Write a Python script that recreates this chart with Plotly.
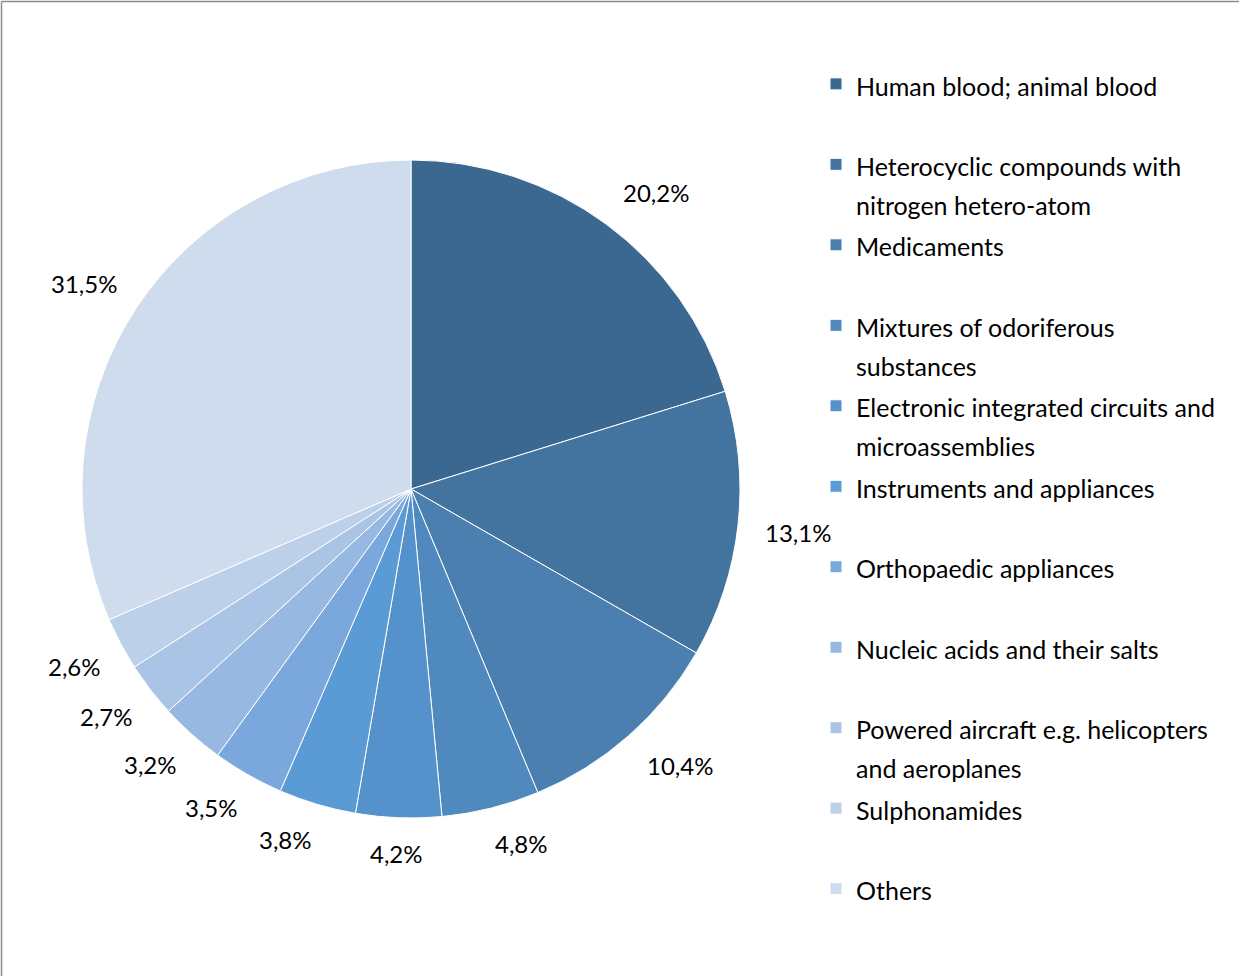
import math
import plotly.graph_objects as go

# ---------------- data ----------------
categories = [
    "Human blood; animal blood",
    "Heterocyclic compounds with<br>nitrogen hetero-atom",
    "Medicaments",
    "Mixtures of odoriferous<br>substances",
    "Electronic integrated circuits and<br>microassemblies",
    "Instruments and appliances",
    "Orthopaedic appliances",
    "Nucleic acids and their salts",
    "Powered aircraft e.g. helicopters<br>and aeroplanes",
    "Sulphonamides",
    "Others",
]
shares = [20.2, 13.1, 10.4, 4.8, 4.2, 3.8, 3.5, 3.2, 2.7, 2.6, 31.5]
colors = [
    "#3B6891", "#4374A0", "#4A7FB0", "#4F89BE", "#5591CA", "#5B9BD5",
    "#7AA7DC", "#96B8E1", "#AAC4E6", "#BCD0EA", "#CFDCEE",
]

# ---------------- layout constants ----------------
W_FIG, H_FIG = 1239, 976
CX, CY, R = 411, 489, 329          # pie centre / radius in pixels
FONT = "Lato"
TXT_FS = 24                         # data-label text size
LEG_FS = 25                         # visible legend text size
LEG_BASE_FS = 29.8                  # legend base size (sets entry spacing)
LABEL_GAP = 25

def fmt(v):
    return f"{v:.1f}".replace(".", ",") + "%"

def legend_text(cat):
    lines = cat.split("<br>")
    if len(lines) == 1:
        lines.append("\u00a0")
    return "<br>".join(f"<span style='font-size:{LEG_FS}px'>{l}</span>" for l in lines)

legend_labels = [legend_text(c) for c in categories]

fig = go.Figure()
fig.add_trace(go.Pie(
    labels=legend_labels,
    values=shares,
    sort=False,
    direction="clockwise",
    rotation=0,
    marker=dict(colors=colors, line=dict(color="white", width=1)),
    textinfo="none",
    hoverinfo="percent",
    domain=dict(x=[(CX - R) / W_FIG, (CX + R) / W_FIG],
                y=[1 - (CY + R) / H_FIG, 1 - (CY - R) / H_FIG]),
))

# data labels outside the slices, positioned from the slice mid-angles
total = sum(shares)
annotations = []
cum = 0.0
for v in shares:
    mid = (cum + v / 2) / total * 2 * math.pi
    cum += v
    ux, uy = math.sin(mid), -math.cos(mid)      # uy: screen-down positive
    txt = fmt(v)
    w = 13.2 * len(txt)
    h = 22
    k = 3.5
    px = CX + 2 + (R + LABEL_GAP) * ux + w / 2 * max(-1, min(1, ux * k))
    py = CY + (R + LABEL_GAP) * uy + h / 2 * max(-1, min(1, uy * k))
    annotations.append(dict(
        x=px / W_FIG, y=1 - py / H_FIG, xref="paper", yref="paper",
        text=txt, showarrow=False, xanchor="center", yanchor="middle",
        font=dict(family=FONT, size=TXT_FS, color="#000000"),
    ))

fig.update_layout(
    width=W_FIG, height=H_FIG,
    margin=dict(l=0, r=0, t=0, b=0),
    paper_bgcolor="white", plot_bgcolor="white",
    font=dict(family=FONT, size=TXT_FS, color="#000000"),
    showlegend=True,
    legend=dict(
        x=816 / W_FIG, xanchor="left",
        y=1 - 58 / H_FIG, yanchor="top",
        font=dict(family=FONT, size=LEG_BASE_FS, color="#000000"),
        valign="top",
        bgcolor="rgba(0,0,0,0)",
        traceorder="normal",
    ),
    annotations=annotations,
    shapes=[
        dict(type="line", xref="paper", yref="paper",
             x0=1.5 / W_FIG, x1=1.2, y0=1 - 1.5 / H_FIG, y1=1 - 1.5 / H_FIG,
             line=dict(color="#8C8C8C", width=1.5)),
        dict(type="line", xref="paper", yref="paper",
             x0=1.5 / W_FIG, x1=1.5 / W_FIG, y0=1 - 1.5 / H_FIG, y1=-0.2,
             line=dict(color="#8C8C8C", width=1.5)),
    ],
)

fig.write_html(
    "out.html",
    config={"displayModeBar": False},
    post_script="document.body.style.margin='0';document.body.style.overflow='hidden';",
)
